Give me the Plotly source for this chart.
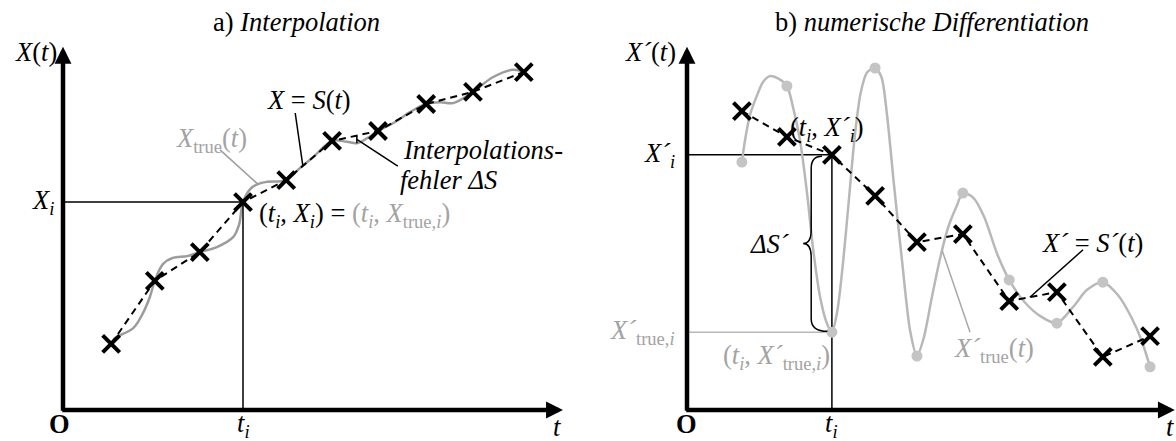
import numpy as np
import plotly.graph_objects as go

# ---------------- a) Interpolation ----------------
# sample times and sampled values
t_a = [1.07, 2.04, 3.04, 4.00, 4.96, 5.98, 7.00, 8.07, 9.11, 10.24]
x_a = [1.47, 2.87, 3.51, 4.62, 5.11, 5.98, 6.20, 6.80, 7.07, 7.51]
# true signal X_true(t)
true_t_a = [1.07, 1.16, 1.56, 1.78, 1.93, 2.04, 2.22, 2.44, 2.76, 3.04, 3.42, 3.78,
            3.91, 4.00, 4.16, 4.33, 4.53, 4.96, 5.27, 5.56, 5.98, 6.31, 6.53, 6.76,
            7.00, 7.38, 7.71, 8.07, 8.38, 8.67, 9.11, 9.56, 10.00, 10.24]
true_x_a = [1.47, 1.60, 1.82, 2.16, 2.51, 2.87, 3.24, 3.38, 3.42, 3.51, 3.62, 3.84,
            4.11, 4.62, 4.91, 5.02, 5.07, 5.11, 5.38, 5.62, 5.98, 5.96, 5.93, 6.04,
            6.20, 6.40, 6.62, 6.80, 6.84, 6.82, 7.07, 7.40, 7.56, 7.51]
i_a = 3          # highlighted sample (t_i, X_i)
t_err_a = 6.53   # where the interpolation error is marked

# ---------------- b) numerische Differentiation ----------------
t_b = [1.22, 2.22, 3.22, 4.18, 5.11, 6.13, 7.16, 8.22, 9.24, 10.29]
ds_b = [6.64, 6.07, 5.67, 4.76, 3.73, 3.91, 2.42, 2.62, 1.18, 1.64]      # X'_i from S'(t)
dtrue_b = [5.51, 7.20, 1.73, 7.60, 1.20, 4.82, 2.89, 1.93, 2.84, 0.96]   # X'_true at t_i
# true derivative X'_true(t)
true_t_b = [1.22, 1.29, 1.40, 1.56, 1.69, 1.84, 2.00, 2.22, 2.36, 2.51, 2.67, 2.80,
            2.96, 3.10, 3.22, 3.34, 3.47, 3.60, 3.73, 3.86, 4.00, 4.18, 4.32,
            4.44, 4.60, 4.78, 4.96, 5.11, 5.26, 5.44, 5.62, 5.80, 6.00, 6.13,
            6.36, 6.60, 6.90, 7.16, 7.50, 7.86, 8.22, 8.58, 8.89, 9.24, 9.58, 9.88,
            10.10, 10.29]
true_x_b = [5.51, 6.00, 6.56, 7.00, 7.29, 7.42, 7.38, 7.20, 6.71, 6.00, 4.80, 3.60,
            2.50, 1.95, 1.73, 2.20, 3.30, 4.70, 6.10, 7.05, 7.50, 7.60, 7.40,
            6.60, 5.00, 3.30, 1.75, 1.20, 1.60, 2.50, 3.35, 4.05, 4.55, 4.82,
            4.72, 4.30, 3.45, 2.89, 2.40, 2.08, 1.93, 2.29, 2.67, 2.84, 2.55, 2.05,
            1.55, 0.96]
i_b = 2

# ---------------- layout geometry ----------------
W, H = 1176, 441
UNIT = 45.0                 # px per data unit
ORIGIN_A = (63, 410)        # px position of panel a origin
ORIGIN_B = (687, 410)
T_END_A, T_END_B = 11.11, 10.84
Y_END = 8.07

FONT = "Liberation Serif"
FS = 26.5
GRAY_A = "#9c9c9c"
GRAY_B = "#b8b8b8"
GRAY_TXT = "#a3a3a3"

fig = go.Figure()

# panel a
fig.add_trace(go.Scatter(x=true_t_a, y=true_x_a, mode="lines", xaxis="x", yaxis="y",
                         line=dict(color=GRAY_A, width=2.5, shape="spline", smoothing=1.0),
                         hoverinfo="skip"))
fig.add_trace(go.Scatter(x=t_a, y=x_a, mode="lines", xaxis="x", yaxis="y",
                         line=dict(color="black", width=2, dash="7px,5px"), hoverinfo="skip"))
fig.add_trace(go.Scatter(x=[0, t_a[i_a], t_a[i_a]], y=[x_a[i_a], x_a[i_a], 0], mode="lines",
                         xaxis="x", yaxis="y", line=dict(color="black", width=1.5), hoverinfo="skip"))
fig.add_trace(go.Scatter(x=t_a, y=x_a, mode="markers", xaxis="x", yaxis="y",
                         marker=dict(symbol="x-thin", size=17, line=dict(color="black", width=4)),
                         hoverinfo="skip"))

# panel b
fig.add_trace(go.Scatter(x=[0, t_b[i_b]], y=[dtrue_b[i_b], dtrue_b[i_b]], mode="lines",
                         xaxis="x2", yaxis="y2", line=dict(color=GRAY_B, width=1.5), hoverinfo="skip"))
fig.add_trace(go.Scatter(x=[0, t_b[i_b], t_b[i_b]], y=[ds_b[i_b], ds_b[i_b], 0], mode="lines",
                         xaxis="x2", yaxis="y2", line=dict(color="black", width=1.5), hoverinfo="skip"))
fig.add_trace(go.Scatter(x=true_t_b, y=true_x_b, mode="lines", xaxis="x2", yaxis="y2",
                         line=dict(color=GRAY_B, width=2.5, shape="spline", smoothing=0.8),
                         hoverinfo="skip"))
fig.add_trace(go.Scatter(x=t_b, y=dtrue_b, mode="markers", xaxis="x2", yaxis="y2",
                         marker=dict(size=11, color="#c4c4c4"), hoverinfo="skip"))
fig.add_trace(go.Scatter(x=t_b, y=ds_b, mode="lines", xaxis="x2", yaxis="y2",
                         line=dict(color="black", width=2, dash="7px,5px"), hoverinfo="skip"))
fig.add_trace(go.Scatter(x=t_b, y=ds_b, mode="markers", xaxis="x2", yaxis="y2",
                         marker=dict(symbol="x-thin", size=17, line=dict(color="black", width=4)),
                         hoverinfo="skip"))

shapes = []
annotations = []


def axis_arrows(xr, yr, t_end):
    for (x0, y0, x1, y1) in [(0, -0.05, 0, Y_END), (-0.05, 0, t_end, 0)]:
        annotations.append(dict(x=x1, y=y1, ax=x0, ay=y0, xref=xr, yref=yr, axref=xr, ayref=yr,
                                text="", showarrow=True, arrowhead=2, arrowsize=0.75,
                                arrowwidth=4.5, arrowcolor="black", standoff=0, startstandoff=0))


def label(xr, yr, x, y, text, color="black", xanchor="center", size=FS):
    annotations.append(dict(x=x, y=y, xref=xr, yref=yr, text=text, showarrow=False,
                            xanchor=xanchor, yanchor="middle", borderpad=0,
                            font=dict(family=FONT, size=size, color=color)))


def pointer(xr, yr, x0, y0, x1, y1, color="black", width=1.5):
    shapes.append(dict(type="line", xref=xr, yref=yr, x0=x0, y0=y0, x1=x1, y1=y1,
                       line=dict(color=color, width=width)))


axis_arrows("x", "y", T_END_A)
axis_arrows("x2", "y2", T_END_B)

# ---- panel a texts ----
label("x", "y", 5.18, 8.62, "a) <i>Interpolation</i>")
label("x", "y", -0.6, 7.96, "<i>X</i>(<i>t</i>)")
label("x", "y", -0.18, x_a[i_a], "<i>X<sub>i</sub></i>", xanchor="right")
label("x", "y", -0.07, -0.31, "<b>O</b>")
label("x", "y", t_a[i_a], -0.34, "<i>t<sub>i</sub></i>")
label("x", "y", 10.98, -0.38, "<i>t</i>")
label("x", "y", 5.47, 6.89, "<i>X</i> = <i>S</i>(<i>t</i>)")
label("x", "y", 3.29, 6.00, "<i>X</i><sub>true</sub>(<i>t</i>)", color=GRAY_TXT)
label("x", "y", 7.53, 5.78, "<i>Interpolations-</i>", xanchor="left")
label("x", "y", 7.47, 5.11, "<i>fehler ΔS</i>", xanchor="left")
label("x", "y", 4.33, 4.33,
      "(<i>t<sub>i</sub></i>, <i>X<sub>i</sub></i>) = "
      f"<span style='color:{GRAY_TXT}'>(<i>t<sub>i</sub></i>, <i>X</i><sub>true,<i>i</i></sub>)</span>",
      xanchor="left")

# pointer lines panel a
pointer("x", "y", 5.16, 6.60, 5.33, float(np.interp(5.33, t_a, x_a)))
pointer("x", "y", 3.49, 5.78, 4.33, float(np.interp(4.33, true_t_a, true_x_a)), color=GRAY_A)
err_top = float(np.interp(t_err_a, t_a, x_a))
err_bot = float(np.interp(t_err_a, true_t_a, true_x_a))
pointer("x", "y", t_err_a, err_top, t_err_a, err_bot)
pointer("x", "y", 7.44, 5.42, t_err_a, (err_top + err_bot) / 2)

# ---- panel b texts ----
label("x2", "y2", 5.44, 8.62, "b) <i>numerische Differentiation</i>")
label("x2", "y2", -0.82, 7.96, "<i>X´</i>(<i>t</i>)")
label("x2", "y2", -0.24, ds_b[i_b], "<i>X´<sub>i</sub></i>", xanchor="right")
label("x2", "y2", -0.24, dtrue_b[i_b], "<i>X´</i><sub>true,<i>i</i></sub>", color=GRAY_TXT, xanchor="right")
label("x2", "y2", 3.11, 6.24, "(<i>t<sub>i</sub></i>, <i>X´<sub>i</sub></i>)")
label("x2", "y2", 1.98, 1.18, "(<i>t<sub>i</sub></i>, <i>X´</i><sub>true,<i>i</i></sub>)", color=GRAY_TXT)
label("x2", "y2", 2.31, 3.69, "<i>ΔS´</i>", xanchor="right")
label("x2", "y2", 9.02, 3.71, "<i>X´</i> = <i>S´</i>(<i>t</i>)")
label("x2", "y2", 6.82, 1.33, "<i>X´</i><sub>true</sub>(<i>t</i>)", color=GRAY_TXT)
label("x2", "y2", -0.02, -0.31, "<b>O</b>")
label("x2", "y2", t_b[i_b], -0.34, "<i>t<sub>i</sub></i>")
label("x2", "y2", 10.73, -0.38, "<i>t</i>")

pointer("x2", "y2", 8.80, 3.56, 7.62, float(np.interp(7.62, t_b, ds_b)))
pointer("x2", "y2", 6.29, 1.73, 5.67, float(np.interp(5.67, true_t_b, true_x_b)), color="#a8a8a8")

# curly brace spanning X'_i .. X'_true,i (the error ΔS')
bx = t_b[i_b] - 0.46
top, bot = ds_b[i_b], dtrue_b[i_b]
mid = (top + bot) / 2
r = 0.3
brace = (f"M {t_b[i_b]-0.22},{top-0.03} Q {bx},{top-0.03} {bx},{top-r} "
         f"L {bx},{mid+r} Q {bx},{mid} {bx-0.18},{mid} "
         f"Q {bx},{mid} {bx},{mid-r} "
         f"L {bx},{bot+r} Q {bx},{bot+0.02} {t_b[i_b]-0.1},{bot+0.02}")
shapes.append(dict(type="path", xref="x2", yref="y2", path=brace,
                   line=dict(color="black", width=1.5)))

# axes mapped so that one data unit = UNIT px
def xr(origin):
    return [-origin / UNIT, (W - origin) / UNIT]

y_range = [-(H - ORIGIN_A[1]) / UNIT, ORIGIN_A[1] / UNIT]
hidden = dict(visible=False, showgrid=False, zeroline=False, fixedrange=True)

fig.update_layout(
    width=W, height=H, autosize=False,
    margin=dict(l=0, r=0, t=0, b=0),
    paper_bgcolor="white", plot_bgcolor="white",
    showlegend=False,
    font=dict(family=FONT, size=FS, color="black"),
    xaxis=dict(range=xr(ORIGIN_A[0]), domain=[0, 1], **hidden),
    yaxis=dict(range=y_range, domain=[0, 1], **hidden),
    xaxis2=dict(range=xr(ORIGIN_B[0]), domain=[0, 1], overlaying="x", anchor="y2", **hidden),
    yaxis2=dict(range=y_range, domain=[0, 1], overlaying="y", anchor="x2", **hidden),
    shapes=shapes,
    annotations=annotations,
)

fig.write_html("out.html", config={"displayModeBar": False})
